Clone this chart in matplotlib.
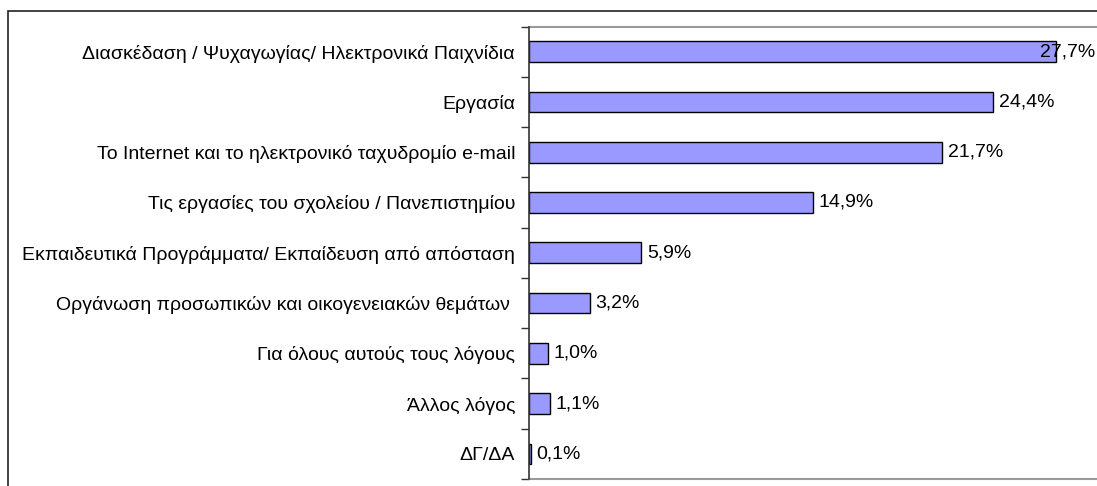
import numpy as np
import matplotlib
matplotlib.use("Agg")
import matplotlib.pyplot as plt
from matplotlib.patches import Rectangle

plt.rcParams['font.family'] = ['Liberation Sans', 'DejaVu Sans']

categories = [
    "Διασκέδαση / Ψυχαγωγίας/ Ηλεκτρονικά Παιχνίδια",
    "Εργασία",
    "Το Internet και το ηλεκτρονικό ταχυδρομίο e-mail",
    "Τις εργασίες του σχολείου / Πανεπιστημίου",
    "Εκπαιδευτικά Προγράμματα/ Εκπαίδευση από απόσταση",
    "Οργάνωση προσωπικών και οικογενειακών θεμάτων ",
    "Για όλους αυτούς τους λόγους",
    "Άλλος λόγος",
    "ΔΓ/ΔΑ",
]
values = [27.7, 24.4, 21.7, 14.9, 5.9, 3.2, 1.0, 1.1, 0.1]

W, H = 1097, 486
fs = 14
fig = plt.figure(figsize=(W / 100, H / 100), dpi=100)

# outer frame like the spreadsheet chart area
fig.patches.append(Rectangle((8 / W, -0.1), 1.2, (H - 11.5) / H + 0.1,
                             transform=fig.transFigure, fill=False,
                             edgecolor='#222222', lw=1.2))

ax = fig.add_axes([529 / W, 7 / H, 571 / W, 452.5 / H])
pos = np.arange(len(categories))
ax.barh(pos, values, height=0.41, color='#9999FF', edgecolor='black', lw=1.0)
ax.set_xlim(0, 30)
ax.set_ylim(len(categories) - 0.5, -0.5)

ax.set_yticks(pos)
ax.set_yticklabels(categories, fontsize=fs)
ax.tick_params(axis='y', which='major', length=0, pad=10)
ax.set_yticks(np.arange(-0.5, len(categories), 1), minor=True)
ax.tick_params(axis='y', which='minor', length=6, width=1, color='#333333')
ax.set_xticks([])

for s in ['top', 'bottom']:
    ax.spines[s].set_color('#999999')
    ax.spines[s].set_linewidth(1.5)
ax.spines['right'].set_visible(False)
ax.spines['left'].set_color('#333333')
ax.spines['left'].set_linewidth(1.2)
ax.spines['left'].set_zorder(5)

fig.canvas.draw()
for p, v in zip(pos, values):
    lab = f"{v:.1f}%".replace('.', ',')
    t = ax.annotate(lab, (v, p), xytext=(4, 0), textcoords='offset points',
                    va='center', ha='left', fontsize=fs)
    bb = t.get_window_extent()
    if bb.x1 > W - 2:
        t.remove()
        ax.annotate(lab, (1.0, p), xycoords=('figure fraction', 'data'),
                    xytext=(-1.5, 0), textcoords='offset points',
                    va='center', ha='right', fontsize=fs)

fig.savefig("out.png", dpi=100)
